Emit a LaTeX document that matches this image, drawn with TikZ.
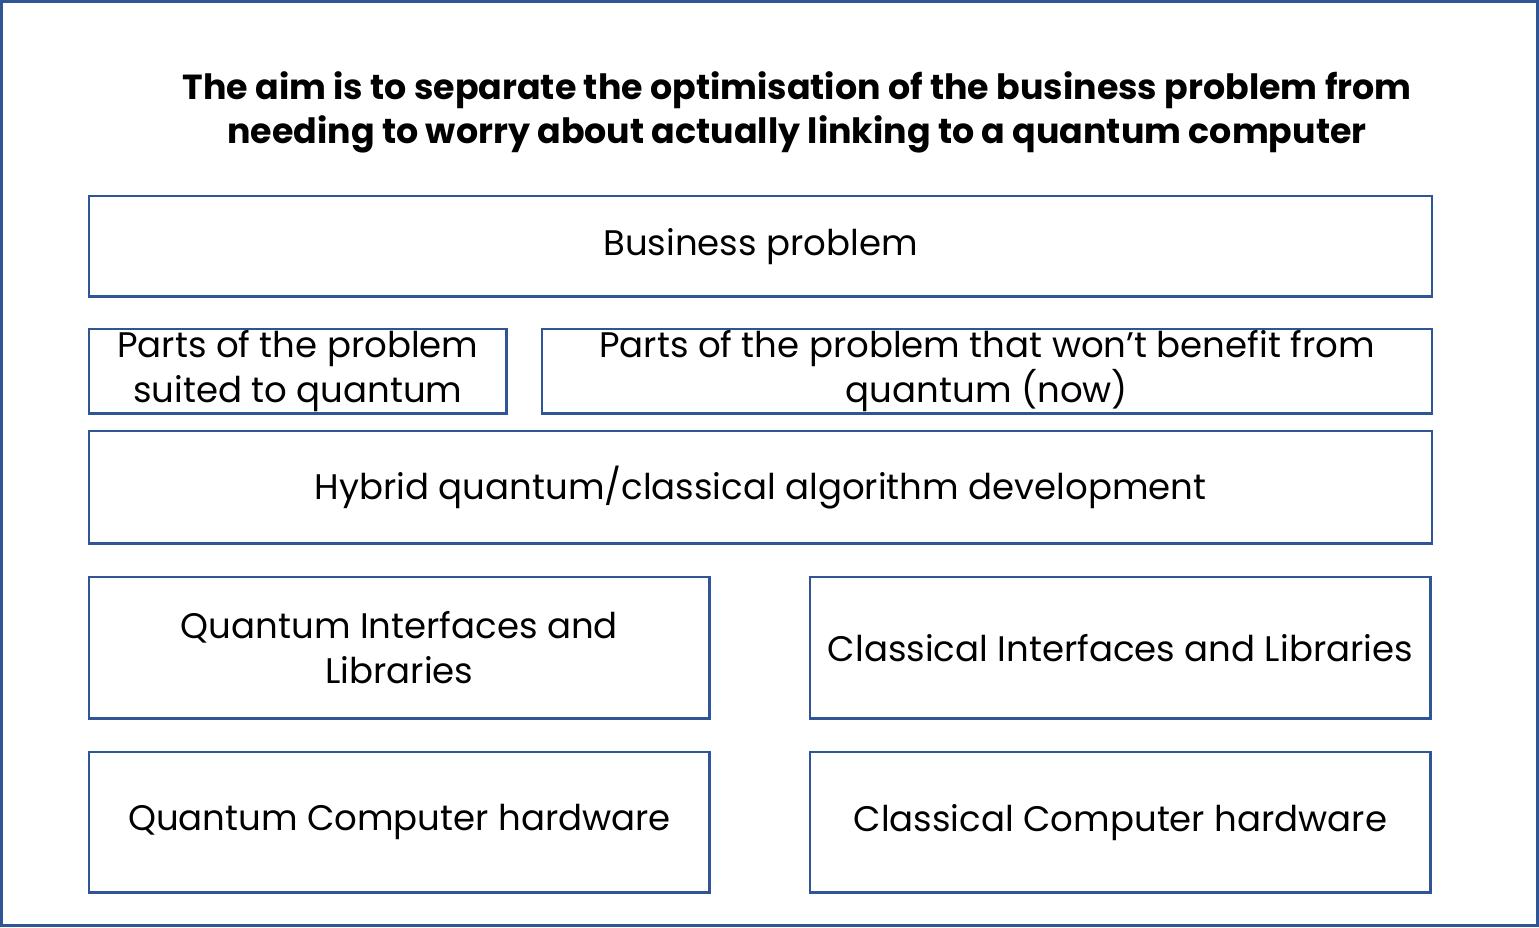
\documentclass[tikz,border=0pt]{standalone}
\usepackage{fontspec}
\setmainfont{Poppins}
\usetikzlibrary{positioning}
\definecolor{frameblue}{HTML}{2F5597}

\begin{document}
\begin{tikzpicture}[
  x=0.01cm, y=-0.01cm,
  box/.style={rectangle, draw=frameblue, line width=0.7pt, anchor=north west, inner sep=0pt, align=center, font=\fontsize{10.1}{12.8}\selectfont},
  wide/.style={box, minimum width=13.42cm},
  half/.style={box, minimum width=6.2cm, minimum height=1.41cm},
  part/.style={box, minimum height=0.84cm},
  title/.style={font=\bfseries\fontsize{9.9}{12.5}\selectfont, align=center}
]
\useasboundingbox (0,0) rectangle (1539,927);
\draw[frameblue, line width=0.85pt] (1.5,1.5) rectangle (1537.5,925.5);

% Title
\node[title] (aim) at (797,112) {The aim is to separate the optimisation of the business problem from\\needing to worry about actually linking to a quantum computer};

% Top row
\node[wide, minimum height=1cm] (biz) at (88,195) {Business problem};

% Split of the problem
\node[part, minimum width=4.17cm] (suited) at (88,328) {Parts of the problem\\suited to quantum};
\node[part, minimum width=8.89cm] (notben) at (541,328) {Parts of the problem that won’t benefit from\\quantum (now)};

% Algorithms
\node[wide, minimum height=1.12cm] (hybrid) at (88,430) {Hybrid quantum/classical algorithm development};

% Libraries
\node[half] (qlib) at (88,576) {Quantum Interfaces and\\Libraries};
\node[half] (clib) at (809,576) {Classical Interfaces and Libraries};

% Hardware
\node[half, minimum height=1.4cm] (qhw) at (88,751) {Quantum Computer hardware};
\node[half, minimum height=1.4cm] (chw) at (809,751) {Classical Computer hardware};
\end{tikzpicture}
\end{document}
